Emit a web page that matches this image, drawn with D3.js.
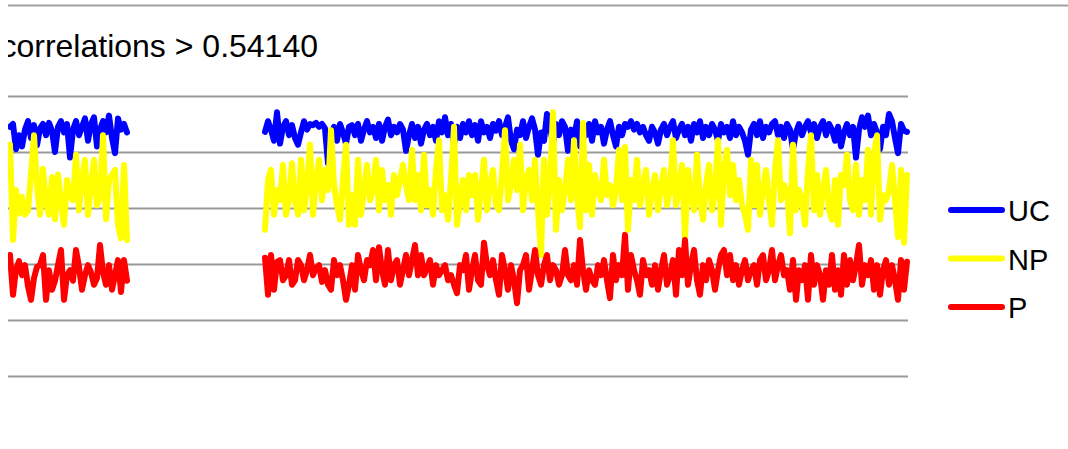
<!DOCTYPE html>
<html>
<head>
<meta charset="utf-8">
<script src="https://cdn.jsdelivr.net/npm/d3@7"></script>
<style>
  html, body { margin: 0; padding: 0; background: #fff; }
  svg { display: block; }
  text { font-family: "Liberation Sans", Arial, sans-serif; fill: #000; }
</style>
</head>
<body>
<svg id="chart" width="1068" height="449"></svg>
<script>
// ---- data ----
const title = "correlations > 0.54140";
const seriesNames = ["UC", "NP", "P"];
const seriesColors = ["#0000ff", "#ffff00", "#ff0000"];
const yTicks = [0, 1, 2, 3, 4, 5];
const gapLength = 45;

const ucSeg1 = [4.45,4.50,4.05,4.30,4.10,4.40,4.55,4.25,4.48,4.12,4.42,4.50,4.30,4.52,4.38,4.00,4.45,4.55,4.35,4.50,
  3.90,4.40,4.55,4.30,4.45,4.60,4.20,4.50,4.62,4.10,4.40,4.55,4.35,4.65,4.25,3.98,4.60,4.40,4.50,4.35];
const ucSeg2 = [4.36,4.55,4.40,4.20,4.71,4.15,4.45,4.55,4.30,4.48,
  4.25,4.13,4.35,4.55,4.40,4.50,4.48,4.52,4.45,4.50,
  4.42,3.80,4.30,4.45,4.20,4.50,4.35,4.15,4.45,4.48,
  4.30,4.50,4.20,4.40,4.55,4.35,4.45,4.25,4.50,4.20,
  4.45,4.58,4.30,4.45,4.35,4.50,4.40,4.02,4.30,4.50,
  4.25,4.45,4.15,4.40,4.50,4.30,4.45,4.20,4.55,4.35,
  4.62,4.30,4.50,4.15,4.45,4.25,4.50,4.35,4.55,4.30,
  4.48,4.20,4.55,4.35,4.45,4.25,4.50,4.38,4.55,4.30,
  4.45,4.62,4.20,4.05,4.40,4.30,4.55,4.25,4.45,4.60,
  4.40,3.95,4.35,4.20,4.68,4.45,4.15,4.50,4.30,4.55,
  4.45,4.02,4.40,4.25,4.55,4.10,4.45,4.30,4.50,4.20,
  4.55,4.35,4.45,4.15,4.40,4.55,4.30,4.10,4.45,4.30,
  4.50,4.45,4.55,4.40,4.50,4.35,4.45,4.30,4.20,4.45,
  4.35,4.15,4.40,4.50,4.30,4.45,4.55,4.25,4.40,4.50,
  4.30,4.45,4.20,4.50,4.35,4.55,4.25,4.45,4.30,4.50,
  4.40,4.20,4.50,4.35,4.45,4.25,4.55,4.30,4.45,4.35,
  4.20,3.95,4.40,4.50,4.30,4.55,4.25,4.45,4.35,4.50,
  4.55,4.30,4.45,4.25,4.50,4.40,4.05,4.35,4.50,4.30,
  4.45,4.55,4.35,4.50,4.25,4.45,4.55,4.30,4.50,4.40,
  4.20,4.45,4.10,4.35,4.50,4.30,4.45,3.90,4.40,4.62,
  4.45,4.65,4.30,4.50,4.35,4.05,4.45,4.30,4.68,4.55,
  4.25,3.98,4.50,4.38,4.36];

const npSeg1 = [4.13,2.43,3.32,2.90,3.20,2.88,2.95,3.60,4.30,3.40,2.88,3.70,3.10,2.88,3.55,2.80,3.60,3.10,2.70,3.50,
  3.20,3.14,3.95,2.96,3.55,3.86,2.88,3.40,3.86,3.05,3.20,4.30,2.80,3.50,3.59,3.68,2.70,2.46,3.77,2.43];
const npSeg2 = [2.61,3.50,3.68,2.88,3.32,3.14,3.77,2.88,3.14,3.80,
  3.14,2.88,3.86,2.96,3.41,4.13,2.88,3.50,3.86,3.14,
  3.68,3.32,4.39,3.41,3.05,2.79,3.50,4.13,2.70,3.23,
  2.70,3.86,2.88,3.32,3.77,3.14,3.32,3.86,2.96,3.68,
  3.14,3.41,2.88,3.59,3.23,3.50,3.77,3.41,3.14,4.04,
  3.14,3.59,2.96,3.95,3.05,3.32,2.88,3.68,4.21,2.96,
  3.23,2.79,3.50,4.45,2.70,3.14,3.50,2.96,3.59,3.23,
  3.59,2.79,3.32,3.86,2.96,3.41,3.68,3.05,2.96,3.59,
  4.39,3.14,3.41,3.86,3.32,4.13,2.96,3.50,3.68,3.14,
  3.86,2.96,2.16,3.86,2.88,3.50,4.71,2.61,3.50,2.96,
  3.32,3.86,3.14,4.21,3.23,2.66,4.52,2.96,3.77,2.88,
  3.59,3.32,3.14,3.86,3.23,3.41,3.05,3.32,4.04,3.14,
  4.09,2.61,3.50,3.14,3.86,3.05,3.41,3.68,2.88,3.32,
  3.59,2.96,3.41,3.68,3.05,3.32,4.21,3.05,3.32,3.77,
  2.48,3.68,3.23,2.96,3.95,3.14,2.79,3.41,3.77,2.96,
  3.32,4.21,2.70,3.68,4.04,3.23,3.77,3.14,3.50,3.05,
  2.88,2.61,3.86,3.05,3.77,2.88,3.32,3.68,3.14,2.70,
  3.68,4.21,3.14,3.41,3.32,2.55,4.13,2.96,3.32,3.14,
  2.70,3.68,4.30,2.96,3.59,2.88,3.32,3.68,2.96,2.79,
  3.50,2.70,3.59,3.41,3.95,3.14,2.96,3.77,2.88,3.50,
  3.14,4.04,2.88,3.95,4.30,2.79,3.23,3.14,3.32,3.77,
  3.14,2.48,3.68,2.38,3.59];

const pSeg1 = [2.16,1.45,1.90,2.05,1.80,1.98,1.60,1.36,1.75,1.95,1.98,2.16,1.36,1.89,1.54,1.70,1.98,2.25,1.36,1.80,
  1.89,1.70,2.25,1.95,1.54,1.80,1.98,1.85,1.63,1.75,2.34,1.85,1.63,1.98,1.54,1.80,2.07,1.50,2.07,1.70];
const pSeg2 = [2.11,1.45,2.16,1.54,2.04,2.07,1.71,1.80,2.07,1.63,
  1.71,2.07,1.98,1.71,1.89,2.16,1.80,1.93,1.98,1.68,
  1.89,1.63,1.54,2.07,1.80,1.98,1.71,1.36,1.63,1.98,
  1.54,2.16,1.89,1.71,2.07,1.98,2.25,1.71,2.30,1.89,
  1.63,2.25,1.71,1.98,2.07,1.63,1.89,2.16,1.80,2.07,
  2.34,1.80,2.16,1.80,1.93,2.07,1.63,1.98,1.80,1.89,
  1.98,1.71,1.80,1.63,1.48,1.98,1.89,2.16,1.54,1.89,
  2.16,1.71,1.63,2.38,1.98,1.80,2.07,1.71,1.45,2.16,
  1.89,1.54,1.98,1.71,1.30,1.89,1.98,2.16,1.54,1.89,
  2.25,1.80,1.63,1.98,2.16,1.71,1.98,1.89,1.63,1.80,
  2.25,1.80,1.71,1.98,1.63,2.43,1.89,1.54,1.89,1.71,
  1.63,1.98,1.80,2.07,1.71,1.39,2.16,1.71,1.98,1.80,
  2.52,1.54,2.16,1.89,1.71,1.45,2.07,1.80,1.89,1.63,
  1.98,1.54,1.89,2.16,1.63,1.80,2.07,1.45,2.25,1.80,
  2.43,1.63,1.98,2.25,1.71,1.45,1.98,1.71,2.07,1.89,
  1.54,1.89,2.16,2.25,1.80,2.16,1.71,1.98,1.63,1.89,
  2.07,1.71,1.89,1.98,1.63,2.07,2.16,1.71,1.89,2.25,
  1.71,1.98,2.16,1.80,1.89,1.54,2.07,1.36,1.89,1.71,
  1.98,1.36,2.16,1.63,1.98,1.80,1.36,1.89,1.63,2.16,
  1.54,1.89,1.45,2.16,1.63,2.07,1.71,1.98,2.34,1.63,
  1.98,1.80,2.07,1.54,1.98,1.45,1.89,2.07,1.63,1.98,
  1.71,1.36,2.07,1.54,2.04];

// ---- build ----
const gap = Array(gapLength).fill(null);
const seriesValues = [
  [...ucSeg1, ...gap, ...ucSeg2],
  [...npSeg1, ...gap, ...npSeg2],
  [...pSeg1, ...gap, ...pSeg2]
];
const nPoints = seriesValues[0].length;

const svg = d3.select("#chart");
const plot = { left: 8, right: 908, top: 96, bottom: 376 };

svg.append("defs").append("clipPath").attr("id", "clip")
  .append("rect").attr("x", 8).attr("y", 0).attr("width", 1060).attr("height", 449);

const root = svg.append("g").attr("clip-path", "url(#clip)");

const x = d3.scaleLinear().domain([0, nPoints - 1]).range([10, 907]);
const y = d3.scaleLinear().domain([0, 5]).range([plot.bottom, plot.top]);

// top border
root.append("line")
  .attr("x1", 0).attr("x2", 1068).attr("y1", 5.5).attr("y2", 5.5)
  .attr("stroke", "#a0a0a0").attr("stroke-width", 2);

// title
root.append("text")
  .attr("x", 318).attr("y", 57)
  .attr("text-anchor", "end")
  .style("font-size", "32px")
  .text(title);

// gridlines
root.append("g").selectAll("line").data(yTicks).join("line")
  .attr("x1", plot.left).attr("x2", plot.right)
  .attr("y1", d => Math.round(y(d)) + 0.5).attr("y2", d => Math.round(y(d)) + 0.5)
  .attr("stroke", "#999").attr("stroke-width", 2);

// lines
const line = d3.line()
  .defined(d => d != null)
  .x((d, i) => x(i))
  .y(d => y(d));

root.append("g").selectAll("path").data(seriesValues).join("path")
  .attr("d", d => line(d))
  .attr("fill", "none")
  .attr("stroke", (d, i) => seriesColors[i])
  .attr("stroke-width", 6)
  .attr("stroke-linejoin", "round")
  .attr("stroke-linecap", "round");

// legend
const legend = root.append("g");
const ly = d3.scaleLinear().domain([0, 2]).range([210, 307]);
seriesNames.forEach((name, i) => {
  legend.append("line")
    .attr("x1", 951).attr("x2", 1002)
    .attr("y1", ly(i)).attr("y2", ly(i))
    .attr("stroke", seriesColors[i]).attr("stroke-width", 6)
    .attr("stroke-linecap", "round");
  legend.append("text")
    .attr("x", 1008).attr("y", ly(i) + 11)
    .style("font-size", "29px")
    .text(name);
});
</script>
</body>
</html>
